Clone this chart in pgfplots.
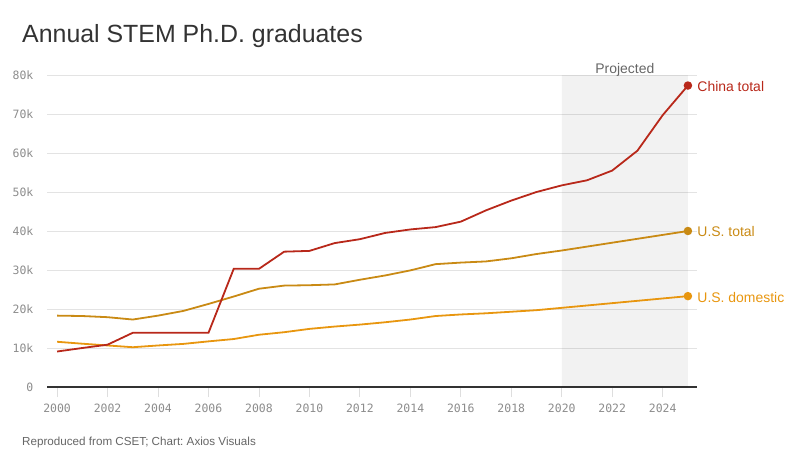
\documentclass[border=0pt]{standalone}
\usepackage{pgfplots}
\pgfplotsset{compat=1.18}
\usepackage{fontspec}
\setmainfont{Liberation Sans}
\newfontfamily\monofont{DejaVu Sans Mono}
\frenchspacing
\definecolor{chinared}{HTML}{B8281A}
\definecolor{ustotal}{HTML}{C98A14}
\definecolor{usdom}{HTML}{E8960F}
\definecolor{titlegray}{HTML}{333333}
\definecolor{tickgray}{HTML}{8C8C8C}
\definecolor{notegray}{HTML}{666666}

% year, China total, U.S. total, U.S. domestic (graduates)
\pgfplotstableread{
year  china  ustot  usdom
2000  9100   18300  11600
2001  10000  18200  11100
2002  10850  17900  10650
2003  13900  17300  10200
2004  13900  18300  10650
2005  13900  19500  11050
2006  13900  21300  11700
2007  30300  23200  12300
2008  30300  25200  13400
2009  34700  26000  14050
2010  34900  26100  14900
2011  36900  26300  15500
2012  37900  27500  16000
2013  39500  28600  16600
2014  40400  29900  17300
2015  41000  31500  18200
2016  42400  31900  18600
2017  45300  32200  18900
2018  47800  33000  19300
2019  50000  34100  19700
2020  51700  35000  20300
2021  53000  36000  20900
2022  55500  37000  21500
2023  60600  38000  22100
2024  69700  39000  22700
2025  77300  40000  23300
}\phd

\begin{document}
\begin{tikzpicture}
\path[use as bounding box] (0,0) rectangle (805bp,466bp);
\node[anchor=base west, inner sep=0, text=titlegray,
      font=\fontsize{25}{30}\selectfont] at (22bp,423bp) {Annual STEM Ph.D. graduates};
\node[anchor=base west, inner sep=0, text=notegray,
      font=\fontsize{11.7}{14}\selectfont] at (22bp,21bp) {Reproduced from CSET; Chart: Axios Visuals};

\begin{axis}[
    at={(47bp,79bp)}, anchor=south west,
    scale only axis, width=650bp, height=312bp,
    xmin=1999.6, xmax=2025.36, ymin=0, ymax=80000,
    clip=false,
    axis x line*=bottom, axis y line*=left,
    x axis line style={draw=titlegray, line width=1.2bp},
    y axis line style={draw=none},
    ymajorgrids, grid style={draw=black!11, line width=0.8bp},
    xtick={2000,2002,...,2024},
    xticklabels={2000,2002,2004,2006,2008,2010,2012,2014,2016,2018,2020,2022,2024},
    ytick={0,10000,...,80000},
    yticklabels={0,10k,20k,30k,40k,50k,60k,70k,80k},
    scaled y ticks=false,
    tick align=outside, major tick length=10bp,
    xtick style={draw=black!13, line width=0.8bp},
    ytick style={draw=none},
    ticklabel style={font=\monofont\fontsize{11.5}{13}\selectfont, text=tickgray},
    yticklabel style={inner sep=3.5bp},
    xticklabel style={yshift=-3bp},
  ]
  % projected period
  \addplot[draw=none, fill=black, fill opacity=0.05]
    coordinates {(2020,0) (2020,80000) (2025,80000) (2025,0)} \closedcycle;

  \addplot[usdom, line width=1.8bp, mark=*, mark indices={26}, mark size=3.3bp,
           mark options={fill=usdom, draw=usdom}]
    table[x=year, y=usdom] {\phd};
  \addplot[ustotal, line width=1.8bp, mark=*, mark indices={26}, mark size=3.3bp,
           mark options={fill=ustotal, draw=ustotal}]
    table[x=year, y=ustot] {\phd};
  \addplot[chinared, line width=1.8bp, mark=*, mark indices={26}, mark size=3.3bp,
           mark options={fill=chinared, draw=chinared}]
    table[x=year, y=china] {\phd};

  \node[anchor=west, text=chinared, font=\fontsize{14}{16}\selectfont]
    at (axis cs:2025,77300) [xshift=6bp, yshift=-1bp] {China total};
  \node[anchor=west, text=ustotal, font=\fontsize{14}{16}\selectfont]
    at (axis cs:2025,40000) [xshift=6bp, yshift=-1bp] {U.S. total};
  \node[anchor=west, text=usdom, font=\fontsize{14}{16}\selectfont]
    at (axis cs:2025,23300) [xshift=6bp, yshift=-1bp] {U.S. domestic};
  \node[anchor=base, text=notegray, font=\fontsize{14}{16}\selectfont]
    at (axis cs:2022.5,80000) [yshift=2bp] {Projected};
\end{axis}
\end{tikzpicture}
\end{document}
